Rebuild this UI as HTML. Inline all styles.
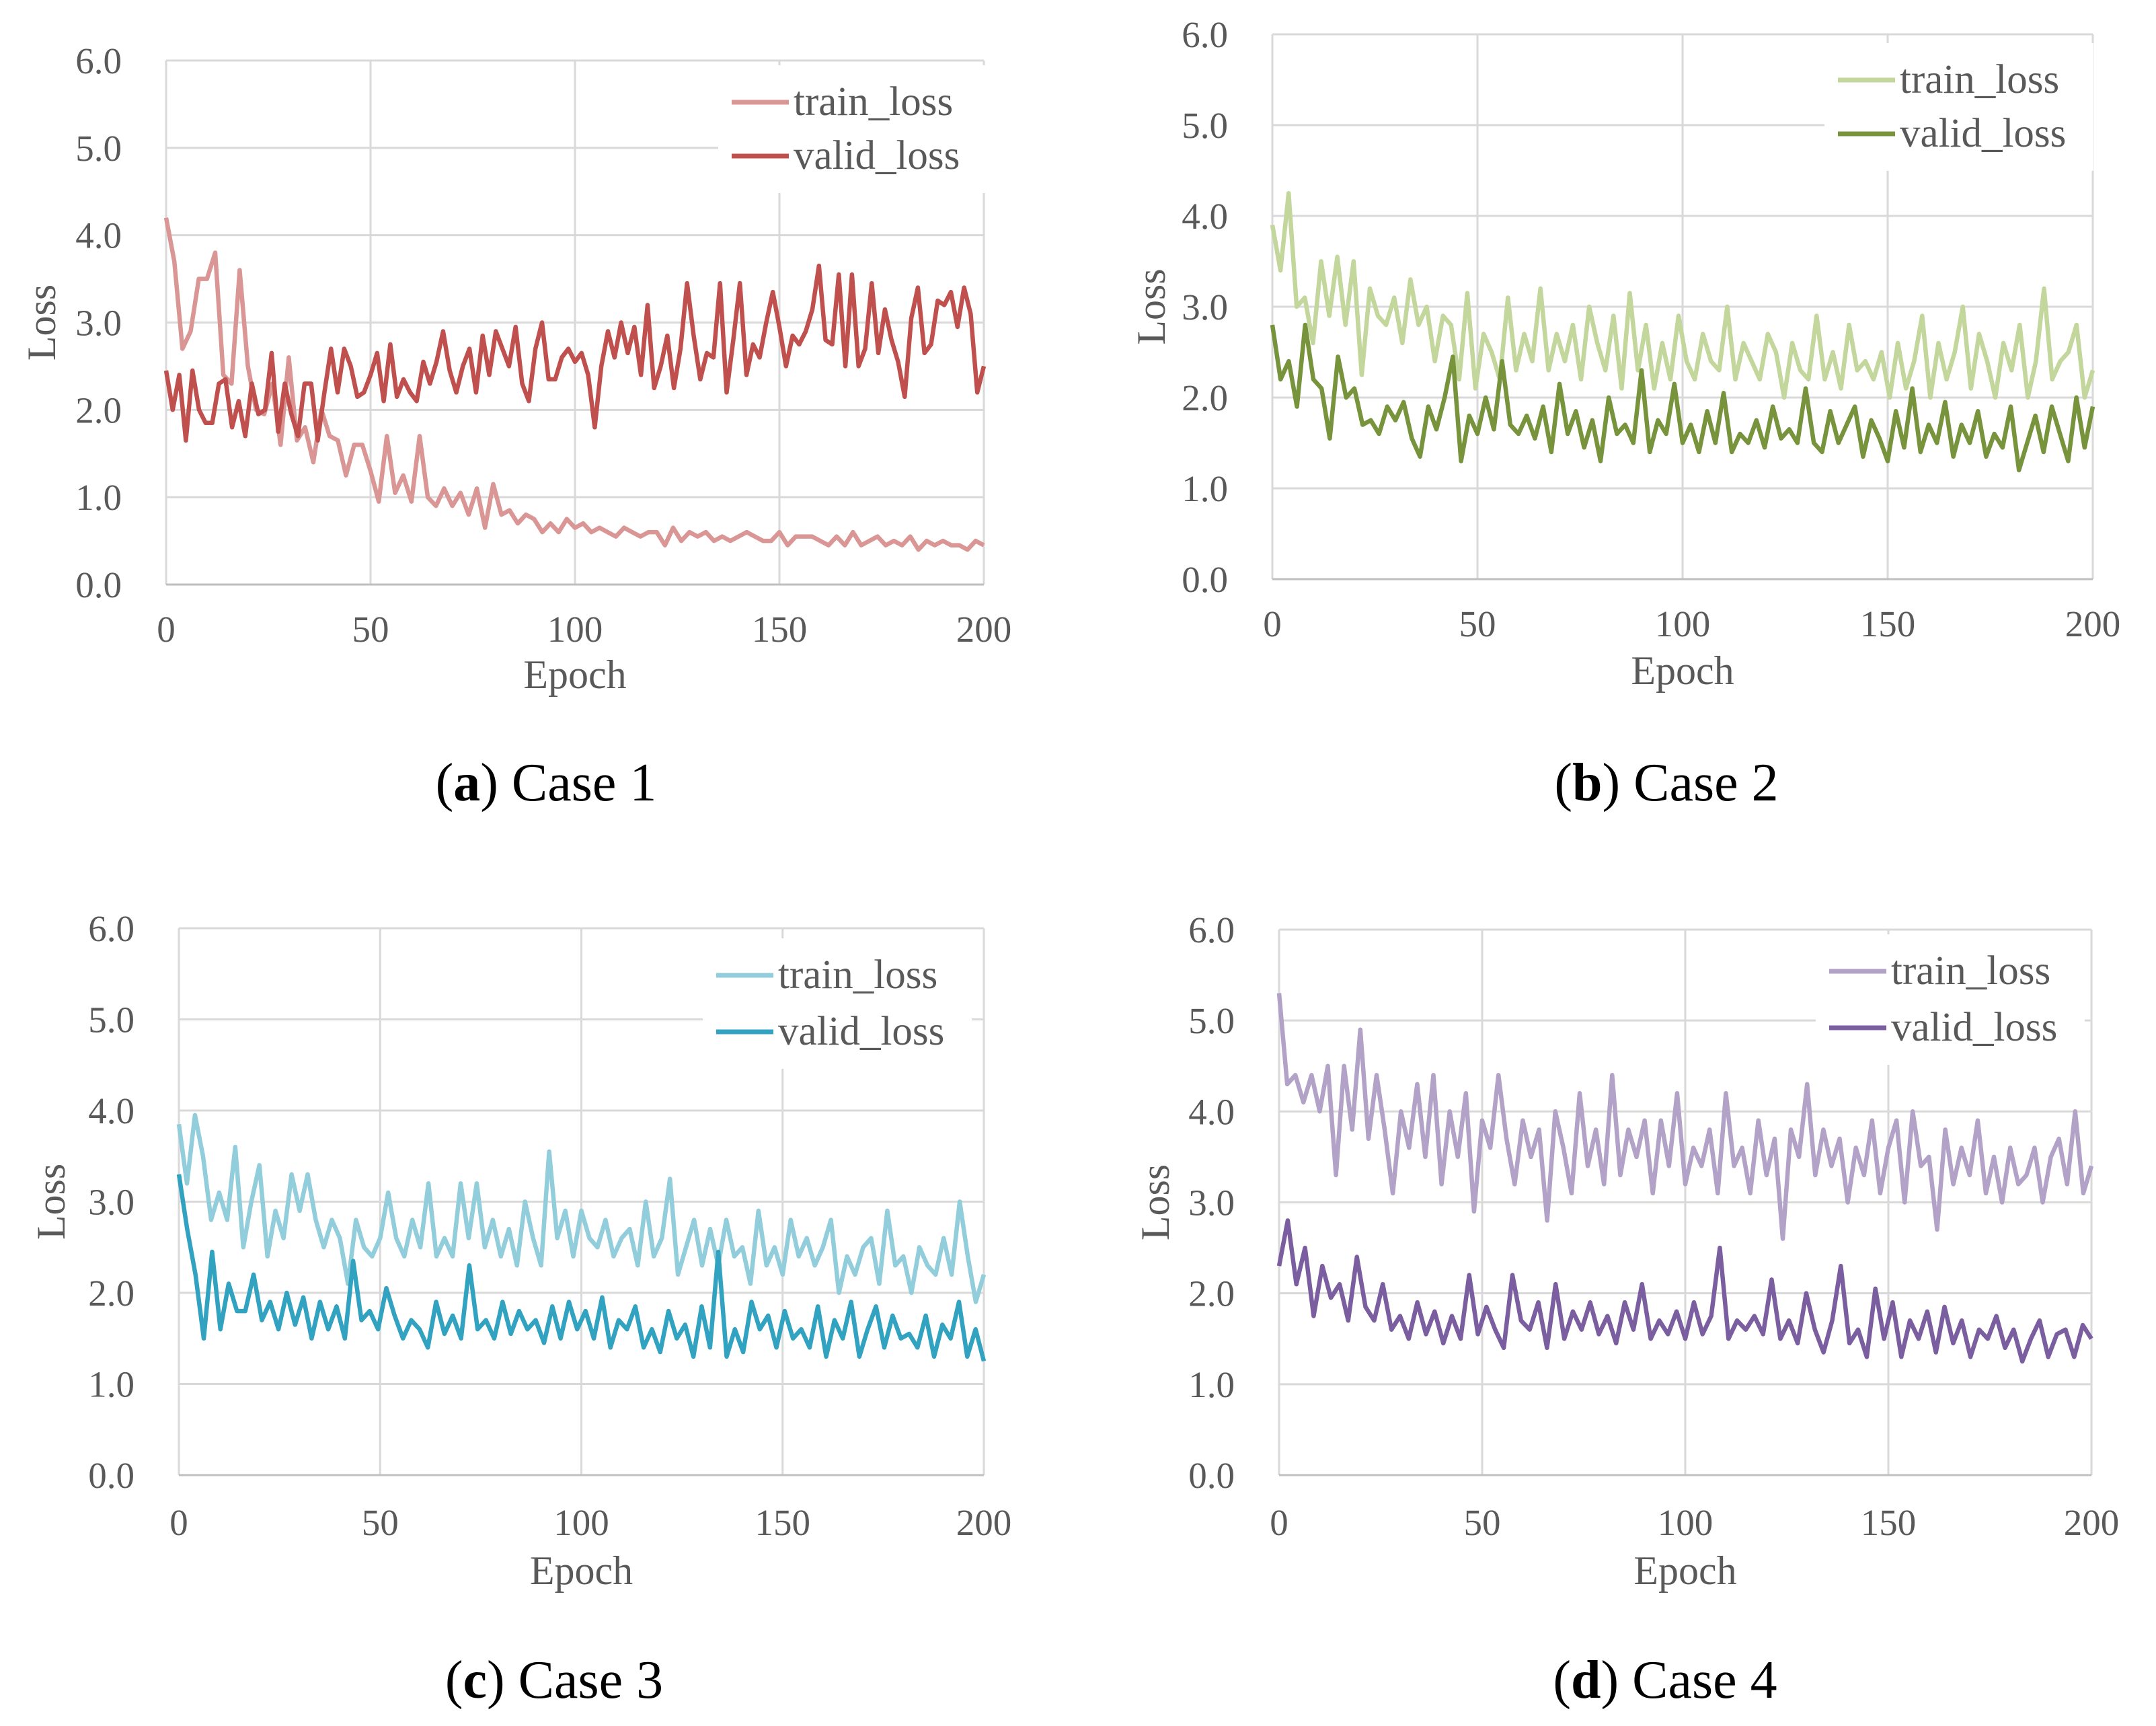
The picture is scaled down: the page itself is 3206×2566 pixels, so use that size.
<!DOCTYPE html>
<html><head><meta charset="utf-8"><style>
html,body{margin:0;padding:0;background:#fff}
svg{display:block}
text{font-family:"Liberation Serif",serif}
</style></head><body>
<svg id="c" width="3206" height="2566" viewBox="0 0 3206 2566" xmlns="http://www.w3.org/2000/svg"></svg>
<script>
const yTicks=[0,1,2,3,4,5,6];
const yTickLabels=["0.0","1.0","2.0","3.0","4.0","5.0","6.0"];
const xTicks=[0,50,100,150,200];
const xTickLabels=["0","50","100","150","200"];
const aTrain=[4.2,3.7,2.7,2.9,3.5,3.5,3.8,2.4,2.3,3.6,2.5,2.0,1.95,2.3,1.6,2.6,1.65,1.8,1.4,2.0,1.7,1.65,1.25,1.6,1.6,1.3,0.95,1.7,1.05,1.25,0.95,1.7,1.0,0.9,1.1,0.9,1.05,0.8,1.1,0.65,1.15,0.8,0.85,0.7,0.8,0.75,0.6,0.7,0.6,0.75,0.65,0.7,0.6,0.65,0.6,0.55,0.65,0.6,0.55,0.6,0.6,0.45,0.65,0.5,0.6,0.55,0.6,0.5,0.55,0.5,0.55,0.6,0.55,0.5,0.5,0.6,0.45,0.55,0.55,0.55,0.5,0.45,0.55,0.45,0.6,0.45,0.5,0.55,0.45,0.5,0.45,0.55,0.4,0.5,0.45,0.5,0.45,0.45,0.4,0.5,0.45];
const aValid=[2.45,2.0,2.4,1.65,2.45,2.0,1.85,1.85,2.3,2.35,1.8,2.1,1.7,2.3,1.95,2.0,2.65,1.75,2.3,1.95,1.7,2.3,2.3,1.65,2.2,2.7,2.2,2.7,2.5,2.15,2.2,2.4,2.65,2.1,2.75,2.15,2.35,2.2,2.1,2.55,2.3,2.55,2.9,2.45,2.2,2.5,2.7,2.2,2.85,2.4,2.9,2.7,2.5,2.95,2.3,2.1,2.7,3.0,2.35,2.35,2.6,2.7,2.55,2.65,2.4,1.8,2.5,2.9,2.6,3.0,2.65,2.95,2.4,3.2,2.25,2.5,2.85,2.25,2.7,3.45,2.85,2.35,2.65,2.6,3.45,2.2,2.8,3.45,2.4,2.75,2.6,3.0,3.35,2.95,2.5,2.85,2.75,2.9,3.15,3.65,2.8,2.75,3.55,2.5,3.55,2.5,2.7,3.45,2.65,3.15,2.8,2.55,2.15,3.05,3.4,2.65,2.75,3.25,3.2,3.35,2.95,3.4,3.1,2.2,2.5];
const bTrain=[3.9,3.4,4.25,3.0,3.1,2.6,3.5,2.9,3.55,2.8,3.5,2.25,3.2,2.9,2.8,3.1,2.6,3.3,2.8,3.0,2.4,2.9,2.8,2.2,3.15,2.1,2.7,2.5,2.2,3.1,2.3,2.7,2.4,3.2,2.3,2.7,2.4,2.8,2.2,3.0,2.6,2.3,2.9,2.1,3.15,2.3,2.8,2.1,2.6,2.2,2.9,2.4,2.2,2.7,2.4,2.3,3.0,2.2,2.6,2.4,2.2,2.7,2.5,2.0,2.6,2.3,2.2,2.9,2.2,2.5,2.1,2.8,2.3,2.4,2.2,2.5,2.0,2.6,2.1,2.4,2.9,2.0,2.6,2.2,2.5,3.0,2.1,2.7,2.4,2.0,2.6,2.3,2.8,2.0,2.4,3.2,2.2,2.4,2.5,2.8,2.0,2.3];
const bValid=[2.8,2.2,2.4,1.9,2.8,2.2,2.1,1.55,2.45,2.0,2.1,1.7,1.75,1.6,1.9,1.75,1.95,1.55,1.35,1.9,1.65,2.0,2.45,1.3,1.8,1.6,2.0,1.65,2.4,1.7,1.6,1.8,1.55,1.9,1.4,2.15,1.6,1.85,1.45,1.75,1.3,2.0,1.6,1.7,1.5,2.3,1.4,1.75,1.6,2.15,1.5,1.7,1.4,1.85,1.5,2.05,1.4,1.6,1.5,1.75,1.45,1.9,1.55,1.65,1.5,2.1,1.5,1.4,1.85,1.5,1.7,1.9,1.35,1.75,1.55,1.3,1.85,1.45,2.1,1.4,1.7,1.5,1.95,1.35,1.7,1.5,1.85,1.35,1.6,1.45,1.9,1.2,1.5,1.8,1.4,1.9,1.6,1.3,2.0,1.45,1.9];
const cTrain=[3.85,3.2,3.95,3.5,2.8,3.1,2.8,3.6,2.5,3.0,3.4,2.4,2.9,2.6,3.3,2.9,3.3,2.8,2.5,2.8,2.6,2.1,2.8,2.5,2.4,2.6,3.1,2.6,2.4,2.8,2.5,3.2,2.4,2.6,2.4,3.2,2.6,3.2,2.5,2.8,2.4,2.7,2.3,3.0,2.6,2.3,3.55,2.6,2.9,2.4,2.9,2.6,2.5,2.8,2.4,2.6,2.7,2.3,3.0,2.4,2.6,3.25,2.2,2.5,2.8,2.3,2.7,2.3,2.8,2.4,2.5,2.1,2.9,2.3,2.5,2.2,2.8,2.4,2.6,2.3,2.5,2.8,2.0,2.4,2.2,2.5,2.6,2.1,2.9,2.3,2.4,2.0,2.5,2.3,2.2,2.6,2.2,3.0,2.4,1.9,2.2];
const cValid=[3.3,2.7,2.2,1.5,2.45,1.6,2.1,1.8,1.8,2.2,1.7,1.9,1.6,2.0,1.65,1.95,1.5,1.9,1.6,1.85,1.5,2.35,1.7,1.8,1.6,2.05,1.75,1.5,1.7,1.6,1.4,1.9,1.55,1.75,1.5,2.3,1.6,1.7,1.5,1.9,1.55,1.8,1.6,1.7,1.45,1.85,1.5,1.9,1.6,1.8,1.5,1.95,1.4,1.7,1.6,1.85,1.4,1.6,1.35,1.8,1.5,1.65,1.3,1.85,1.4,2.45,1.3,1.6,1.35,1.9,1.6,1.75,1.4,1.8,1.5,1.6,1.4,1.85,1.3,1.7,1.5,1.9,1.3,1.6,1.85,1.4,1.75,1.5,1.55,1.4,1.75,1.3,1.65,1.5,1.9,1.3,1.6,1.25];
const dTrain=[5.3,4.3,4.4,4.1,4.4,4.0,4.5,3.3,4.5,3.8,4.9,3.7,4.4,3.8,3.1,4.0,3.6,4.3,3.5,4.4,3.2,4.0,3.5,4.2,2.9,3.9,3.6,4.4,3.7,3.2,3.9,3.5,3.8,2.8,4.0,3.6,3.1,4.2,3.4,3.8,3.2,4.4,3.3,3.8,3.5,3.9,3.1,3.9,3.4,4.2,3.2,3.6,3.4,3.8,3.1,4.2,3.4,3.6,3.1,3.9,3.3,3.7,2.6,3.8,3.5,4.3,3.3,3.8,3.4,3.7,3.0,3.6,3.3,3.9,3.1,3.6,3.9,3.0,4.0,3.4,3.5,2.7,3.8,3.2,3.6,3.3,3.9,3.1,3.5,3.0,3.6,3.2,3.3,3.6,3.0,3.5,3.7,3.2,4.0,3.1,3.4];
const dValid=[2.3,2.8,2.1,2.5,1.75,2.3,1.95,2.1,1.7,2.4,1.85,1.7,2.1,1.6,1.75,1.5,1.9,1.55,1.8,1.45,1.75,1.5,2.2,1.55,1.85,1.6,1.4,2.2,1.7,1.6,1.9,1.4,2.1,1.5,1.8,1.6,1.9,1.55,1.75,1.45,1.9,1.6,2.1,1.5,1.7,1.55,1.8,1.5,1.9,1.55,1.75,2.5,1.5,1.7,1.6,1.75,1.55,2.15,1.5,1.7,1.45,2.0,1.6,1.35,1.7,2.3,1.45,1.6,1.3,2.05,1.5,1.9,1.3,1.7,1.5,1.8,1.35,1.85,1.45,1.7,1.3,1.6,1.5,1.75,1.4,1.6,1.25,1.5,1.7,1.3,1.55,1.6,1.3,1.65,1.5];

const svg=document.getElementById('c');
const NS='http://www.w3.org/2000/svg';
function mk(tag,attrs,parent){const e=document.createElementNS(NS,tag);for(const k in attrs)e.setAttribute(k,attrs[k]);(parent||svg).appendChild(e);return e;}

const panels=[
 {id:'a',x0:247,x1:1463,y0:869,y1:90,train:aTrain,valid:aValid,ct:'#d99694',cv:'#c0504d',lx:1088,ly:[152,232],lossX:62,epochY:1003,tickY:935,cap:'Case 1',capX:812,capY:1163},
 {id:'b',x0:1892,x1:3112,y0:861,y1:51,train:bTrain,valid:bValid,ct:'#c3d69b',cv:'#77933c',lx:2733,ly:[119,199],lossX:1712,epochY:997,tickY:927,cap:'Case 2',capX:2478,capY:1163},
 {id:'c',x0:266,x1:1463,y0:2193,y1:1380,train:cTrain,valid:cValid,ct:'#92cddc',cv:'#31a2c0',lx:1065,ly:[1450,1534],lossX:76,epochY:2335,tickY:2263,cap:'Case 3',capX:824,capY:2497},
 {id:'d',x0:1902,x1:3110,y0:2193,y1:1382,train:dTrain,valid:dValid,ct:'#b3a2c7',cv:'#7a5ea0',lx:2720,ly:[1444,1528],lossX:1718,epochY:2335,tickY:2263,cap:'Case 4',capX:2476,capY:2497}
];

panels.forEach(p=>{
 const g=mk('g',{});
 
 
 const sx=v=>p.x0+(p.x1-p.x0)*v/200;
 const sy=v=>p.y0+(p.y1-p.y0)*v/6;
 yTicks.forEach((t,i)=>{
  const l=mk('line',{x1:p.x0,x2:p.x1,y1:sy(t),y2:sy(t),stroke:'#d9d9d9','stroke-width':3},g);
  
  
  const tx=mk('text',{x:p.x0-66,y:sy(t)+19,'text-anchor':'end','font-size':55,fill:'#595959'},g);
  tx.textContent=yTickLabels[i];
  
  
 });
 xTicks.forEach((t,i)=>{
  const l=mk('line',{x1:sx(t),x2:sx(t),y1:p.y0,y2:p.y1,stroke:'#d9d9d9','stroke-width':3},g);
  
  
  const tx=mk('text',{x:sx(t),y:p.tickY+19,'text-anchor':'middle','font-size':55,fill:'#595959'},g);
  tx.textContent=xTickLabels[i];
  
  
 });
 const ax=mk('line',{x1:p.x0,x2:p.x1,y1:p.y0,y2:p.y0,stroke:'#bfbfbf','stroke-width':3},g);
 
 
 [[p.train,p.ct,'train-loss-line'],[p.valid,p.cv,'valid-loss-line']].forEach(s=>{
  const arr=s[0];const n=arr.length;
  const pts=arr.map((v,i)=>sx(i*200/(n-1)).toFixed(1)+','+sy(v).toFixed(1)).join(' ');
  const pl=mk('polyline',{points:pts,fill:'none',stroke:s[1],'stroke-width':6.5,'stroke-linejoin':'round'},g);
  
  
 });
 const lg=mk('g',{},g);
 
 
 mk('rect',{x:p.lx-20,y:p.ly[0]-55,width:400,height:p.ly[1]-p.ly[0]+110,fill:'#fff'},lg);
 [['train_loss',p.ct,p.ly[0]],['valid_loss',p.cv,p.ly[1]]].forEach(e=>{
  const le=mk('g',{},lg);
  
  
  mk('line',{x1:p.lx,x2:p.lx+85,y1:e[2],y2:e[2],stroke:e[1],'stroke-width':7},le);
  const t=mk('text',{x:p.lx+92,y:e[2]+19,'font-size':61,fill:'#595959'},le);
  t.textContent=e[0];
 });
 const lt=mk('text',{x:0,y:0,'text-anchor':'middle','font-size':60,fill:'#595959',transform:`translate(${p.lossX+20},${(p.y0+p.y1)/2}) rotate(-90)`},g);
 lt.textContent='Loss';
 
 
 const et=mk('text',{x:(p.x0+p.x1)/2,y:p.epochY+20,'text-anchor':'middle','font-size':60,fill:'#595959'},g);
 et.textContent='Epoch';
 
 
 const cp=mk('text',{x:p.capX,y:p.capY+27,'text-anchor':'middle','font-size':80,fill:'#000'},g);
 cp.innerHTML='(<tspan font-weight="bold">'+p.id+'</tspan>) '+p.cap;
 
 
});
</script>
</body></html>
